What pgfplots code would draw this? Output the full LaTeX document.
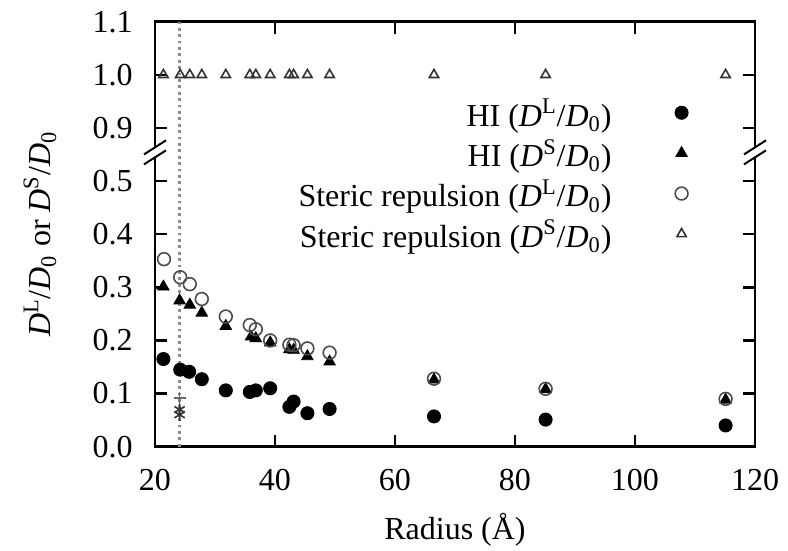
\documentclass[border=0pt]{standalone}
\usepackage{fontspec}
\setmainfont{Liberation Serif}
\usepackage{pgfplots}
\pgfplotsset{compat=1.18}
\begin{document}
\begin{tikzpicture}
\path[use as bounding box] (-77.5pt,-52pt) rectangle (316.5pt,223.35pt);
\begin{axis}[
  at={(0,0)}, anchor=south west,
  scale only axis, width=300pt, height=212.5pt,
  xmin=20, xmax=120, ymin=0, ymax=0.8,
  clip=false,
  font=\fontsize{16}{19}\selectfont,
  /pgf/number format/assume math mode=true,
  xtick={20,40,60,80,100,120},
  ytick={0,0.1,0.2,0.3,0.4,0.5,0.6,0.7,0.8},
  yticklabels={0.0,0.1,0.2,0.3,0.4,0.5,0.9,1.0,1.1},
  tick align=inside,
  xtick pos=both, ytick pos=both,
  major tick length=6pt,
  axis line style={line width=1.2pt},
  every tick/.style={black, line width=1.2pt},
  yticklabel style={inner sep=0pt, anchor=east, xshift=-11pt},
  xticklabel style={inner sep=0pt, anchor=north, yshift=-11pt},
  xlabel={Radius (Å)},
  ylabel={\textit{D}\textsuperscript{L}/\textit{D}\textsubscript{0} or \textit{D}\textsuperscript{S}/\textit{D}\textsubscript{0}},
  every axis x label/.style={at={(axis description cs:0.5,-0.195)}, anchor=center},
  every axis y label/.style={at={(axis description cs:-0.1917,0.5)}, rotate=90, anchor=center},
  legend plot pos=right,
  legend cell align=right,
  legend image code/.code={\draw[mark repeat=2,mark phase=2,#1] plot coordinates {(0cm,0.28em)(0.3cm,0.28em)(0.6cm,0.28em)};},
  legend style={draw=none, fill=none, inner sep=0pt, at={(axis cs:108.93,0.504)}, anchor=east,
    row sep=0pt, column sep=31.7pt,
    nodes={inner sep=0pt, text height=14pt, text depth=6.2pt}},
]
\addplot[forget plot, black!45, line width=1.2pt, dash pattern=on 1.4pt off 1.8pt] coordinates {(24.1,0) (24.1,0.8)};

\addplot[only marks, mark=*, black, mark size=3.3pt] coordinates {
(21.4,0.165) (24.2,0.145) (25.7,0.141) (27.8,0.127) (31.8,0.106)
(35.8,0.103) (36.8,0.106) (39.2,0.110) (42.4,0.075) (43.1,0.085)
(45.4,0.063) (49.1,0.071) (66.5,0.057) (85.1,0.051) (115.1,0.040)};
\addlegendentry{HI (\textit{D}\textsuperscript{L}/\textit{D}\textsubscript{0})}

\addplot[only marks, mark=triangle*, black, mark size=3.3pt] coordinates {
(21.4,0.301) (24.1,0.275) (25.8,0.267) (27.8,0.252) (31.8,0.227)
(36.0,0.207) (36.8,0.204) (39.2,0.196) (42.4,0.183) (43.1,0.182)
(45.4,0.170) (49.1,0.160) (66.5,0.126) (85.1,0.108) (115.1,0.088)};
\addlegendentry{HI (\textit{D}\textsuperscript{S}/\textit{D}\textsubscript{0})}

\addplot[only marks, mark=o, black!70, mark size=3.2pt, line width=0.8pt] coordinates {
(21.5,0.353) (24.2,0.319) (25.8,0.306) (27.8,0.278) (31.8,0.245)
(35.8,0.229) (36.8,0.221) (39.2,0.200) (42.4,0.192) (43.1,0.191)
(45.4,0.185) (49.1,0.177) (66.5,0.128) (85.1,0.109) (115.1,0.090)};
\addlegendentry{Steric repulsion (\textit{D}\textsuperscript{L}/\textit{D}\textsubscript{0})}

\addplot[only marks, mark=triangle, black!80, mark size=2.7pt, line width=0.8pt,
  y filter/.expression={y-0.3}] coordinates {
(21.4,1.0) (24.2,1.0) (25.8,1.0) (27.8,1.0) (31.8,1.0)
(35.8,1.0) (36.8,1.0) (39.2,1.0) (42.4,1.0) (43.1,1.0)
(45.4,1.0) (49.1,1.0) (66.5,1.0) (85.1,1.0) (115.1,1.0)};
\addlegendentry{Steric repulsion (\textit{D}\textsuperscript{S}/\textit{D}\textsubscript{0})}

\addplot[forget plot, only marks, mark=+, black!60, mark size=3pt, line width=0.8pt] coordinates {(24.1,0.092)};
\addplot[forget plot, only marks, mark=asterisk, black!80, mark size=3pt, line width=0.8pt] coordinates {(24.1,0.070) (24.1,0.060)};

\coordinate (BL) at (rel axis cs:0,0.6925);
\coordinate (BR) at (rel axis cs:1,0.6925);
\end{axis}
\foreach \c in {BL,BR}{
  \fill[white] ([shift={(-1.5pt,-2.5pt)}]\c) rectangle ([shift={(1.5pt,2.5pt)}]\c);
  \draw[line width=1pt] ([shift={(-5.5pt,-6pt)}]\c) -- ([shift={(5.5pt,1pt)}]\c);
  \draw[line width=1pt] ([shift={(-5.5pt,-1pt)}]\c) -- ([shift={(5.5pt,6pt)}]\c);
}
\end{tikzpicture}
\end{document}
